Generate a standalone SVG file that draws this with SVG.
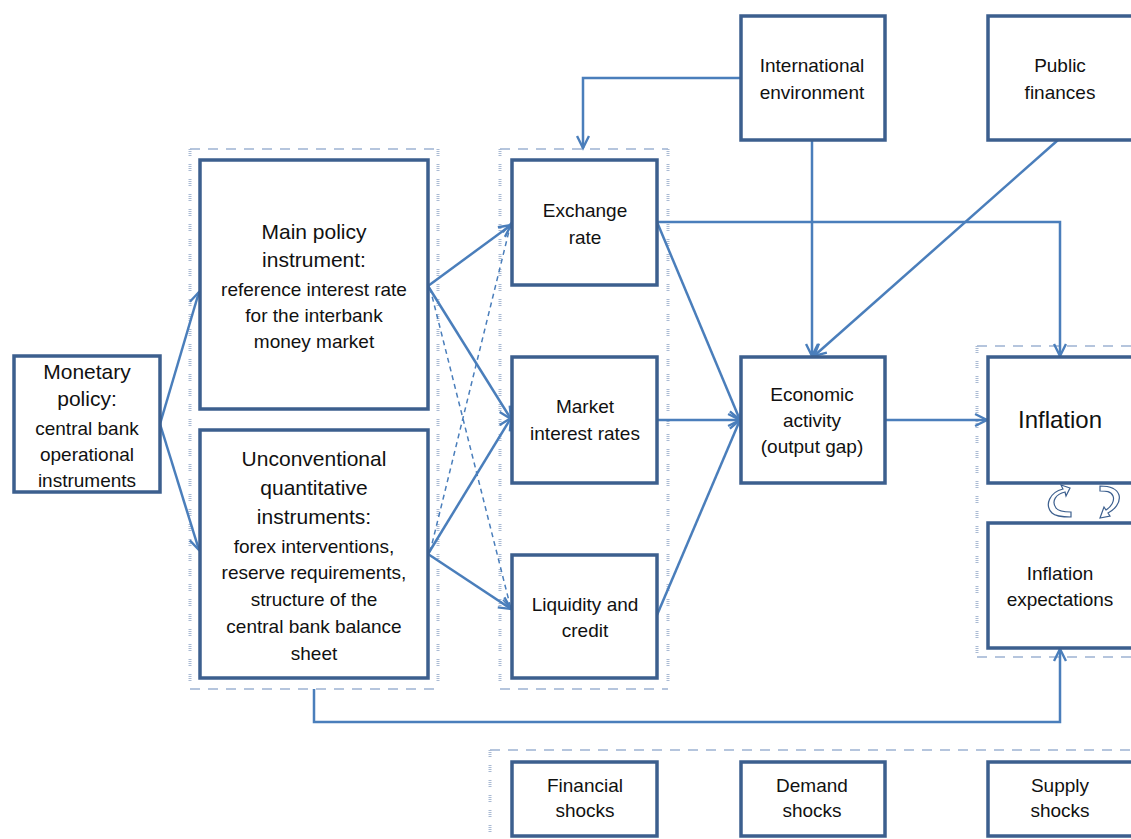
<svg xmlns="http://www.w3.org/2000/svg" width="1131" height="839" viewBox="0 0 1131 839">
<style>
.box{fill:#fff;stroke:#3C5F8E;stroke-width:3.5}
.t{font-family:"Liberation Sans",Arial,sans-serif;font-size:19px;fill:#111;text-anchor:middle}
.b{font-size:21px}
.c{fill:none;stroke:#4A7EBB;stroke-width:2.5}
.d{fill:none;stroke:#4A7EBB;stroke-width:1.5;stroke-dasharray:5 4}
.gh{fill:none;stroke:#9DB3D2;stroke-width:1.5;stroke-dasharray:10 8}
.gv{fill:none;stroke:#A9BAD3;stroke-width:3;stroke-dasharray:1 1 1 1 1 1 1 8}
.ring{fill:#fff;stroke:#3C5F8E;stroke-width:1.2}
</style>
<defs>
<marker id="a" viewBox="0 0 12 12" refX="11" refY="6" markerWidth="13" markerHeight="13" markerUnits="userSpaceOnUse" orient="auto" overflow="visible">
<path d="M0,0.5 L11,6 L0,11.5" fill="none" stroke="#4A7EBB" stroke-width="2.2"/>
</marker>
<marker id="ad" viewBox="0 0 12 12" refX="11" refY="6" markerWidth="12" markerHeight="12" markerUnits="userSpaceOnUse" orient="auto" overflow="visible">
<path d="M0,0.5 L11,6 L0,11.5" fill="none" stroke="#4A7EBB" stroke-width="1.6"/>
</marker>
</defs>
<rect width="1131" height="839" fill="#fff"/>

<g id="groups">
<line class="gh" x1="190" y1="149" x2="438" y2="149"/>
<line class="gh" x1="190" y1="689" x2="438" y2="689"/>
<line class="gv" x1="190" y1="149" x2="190" y2="689"/>
<line class="gv" x1="438" y1="149" x2="438" y2="689"/>
<line class="gh" x1="500" y1="149" x2="668" y2="149"/>
<line class="gh" x1="500" y1="689" x2="668" y2="689"/>
<line class="gv" x1="500" y1="149" x2="500" y2="689"/>
<line class="gv" x1="668" y1="149" x2="668" y2="689"/>
<line class="gh" x1="977" y1="346" x2="1131" y2="346"/>
<line class="gh" x1="977" y1="657" x2="1131" y2="657"/>
<line class="gv" x1="977" y1="346" x2="977" y2="657"/>
<line class="gh" x1="490" y1="750" x2="1131" y2="750"/>
<line class="gv" x1="490" y1="750" x2="490" y2="839"/>
</g>

<g id="connectors">
<line class="c" x1="160" y1="424" x2="199" y2="292" marker-end="url(#a)"/>
<line class="c" x1="160" y1="424" x2="199" y2="550" marker-end="url(#a)"/>
<line class="c" x1="428" y1="286" x2="511" y2="225" marker-end="url(#a)"/>
<line class="c" x1="428" y1="286" x2="511" y2="419" marker-end="url(#a)"/>
<line class="d" x1="430" y1="288" x2="511" y2="609" marker-end="url(#ad)"/>
<line class="c" x1="428" y1="554" x2="511" y2="418" marker-end="url(#a)"/>
<line class="c" x1="428" y1="554" x2="511" y2="609" marker-end="url(#a)"/>
<line class="d" x1="430" y1="552" x2="511" y2="223" marker-end="url(#ad)"/>
<line class="c" x1="657" y1="222" x2="740" y2="420" marker-end="url(#a)"/>
<line class="c" x1="657" y1="420" x2="740" y2="420" marker-end="url(#a)"/>
<line class="c" x1="657" y1="615" x2="740" y2="420" marker-end="url(#a)"/>
<polyline class="c" points="657,222 1060,222 1060,356" marker-end="url(#a)"/>
<polyline class="c" points="741,78 583,78 583,148" marker-end="url(#a)"/>
<line class="c" x1="812" y1="140" x2="812" y2="356" marker-end="url(#a)"/>
<line class="c" x1="1058" y1="140" x2="814" y2="356" marker-end="url(#a)"/>
<line class="c" x1="885" y1="420" x2="987" y2="420" marker-end="url(#a)"/>
<polyline class="c" points="314,689 314,722 1060,722 1060,649" marker-end="url(#a)"/>
</g>

<g id="cycle">
<path class="ring" d="M1070,488 L1061,485 L1063,489 C1050,492 1044,505 1052,513 C1055,516 1060,517 1071,517 L1071,512 C1062,512 1058,511 1056,508 C1051,501 1056,494 1065,492 L1066,496 Z"/>
<path class="ring" d="M1100,486 C1110,486 1117,489 1119,495 C1121,503 1114,510 1108,513 L1110,516 L1100,518 L1104,507 L1106,510 C1111,507 1115,501 1113,496 C1111,491 1106,491 1100,491 Z"/>
</g>

<g id="monetary"><rect class="box" x="14" y="356" width="146" height="136"/>
<text class="t" x="87" y="379" style="font-size:21px">Monetary</text>
<text class="t" x="87" y="406" style="font-size:21px">policy:</text>
<text class="t" x="87" y="435">central bank</text>
<text class="t" x="87" y="461">operational</text>
<text class="t" x="87" y="487">instruments</text></g>

<g id="main"><rect class="box" x="200" y="160" width="228" height="249"/>
<text class="t b" x="314" y="239">Main policy</text>
<text class="t b" x="314" y="267">instrument:</text>
<text class="t" x="314" y="296">reference interest rate</text>
<text class="t" x="314" y="322">for the interbank</text>
<text class="t" x="314" y="348">money market</text></g>

<g id="unconv"><rect class="box" x="200" y="430" width="228" height="248"/>
<text class="t b" x="314" y="466">Unconventional</text>
<text class="t b" x="314" y="495">quantitative</text>
<text class="t b" x="314" y="524">instruments:</text>
<text class="t" x="314" y="553">forex interventions,</text>
<text class="t" x="314" y="579">reserve requirements,</text>
<text class="t" x="314" y="606">structure of the</text>
<text class="t" x="314" y="633">central bank balance</text>
<text class="t" x="314" y="660">sheet</text></g>

<g id="exchange"><rect class="box" x="512" y="160" width="145" height="125"/>
<text class="t" x="585" y="217">Exchange</text>
<text class="t" x="585" y="244">rate</text></g>

<g id="market"><rect class="box" x="512" y="357" width="145" height="126"/>
<text class="t" x="585" y="413">Market</text>
<text class="t" x="585" y="440">interest rates</text></g>

<g id="liquidity"><rect class="box" x="512" y="555" width="145" height="123"/>
<text class="t" x="585" y="611">Liquidity and</text>
<text class="t" x="585" y="637">credit</text></g>

<g id="international"><rect class="box" x="741" y="16" width="144" height="124"/>
<text class="t" x="812" y="72">International</text>
<text class="t" x="812" y="99">environment</text></g>

<g id="public"><rect class="box" x="988" y="16" width="150" height="124"/>
<text class="t" x="1060" y="72">Public</text>
<text class="t" x="1060" y="99">finances</text></g>

<g id="economic"><rect class="box" x="741" y="357" width="144" height="126"/>
<text class="t" x="812" y="401">Economic</text>
<text class="t" x="812" y="427">activity</text>
<text class="t" x="812" y="453">(output gap)</text></g>

<g id="inflation"><rect class="box" x="988" y="357" width="150" height="126"/>
<text class="t" x="1060" y="428" style="font-size:24px">Inflation</text></g>

<g id="expectations"><rect class="box" x="988" y="523" width="150" height="125"/>
<text class="t" x="1060" y="580">Inflation</text>
<text class="t" x="1060" y="606">expectations</text></g>

<g id="financial"><rect class="box" x="512" y="762" width="145" height="74"/>
<text class="t" x="585" y="792">Financial</text>
<text class="t" x="585" y="817">shocks</text></g>

<g id="demand"><rect class="box" x="741" y="762" width="144" height="74"/>
<text class="t" x="812" y="792">Demand</text>
<text class="t" x="812" y="817">shocks</text></g>

<g id="supply"><rect class="box" x="988" y="762" width="150" height="74"/>
<text class="t" x="1060" y="792">Supply</text>
<text class="t" x="1060" y="817">shocks</text></g>
</svg>
